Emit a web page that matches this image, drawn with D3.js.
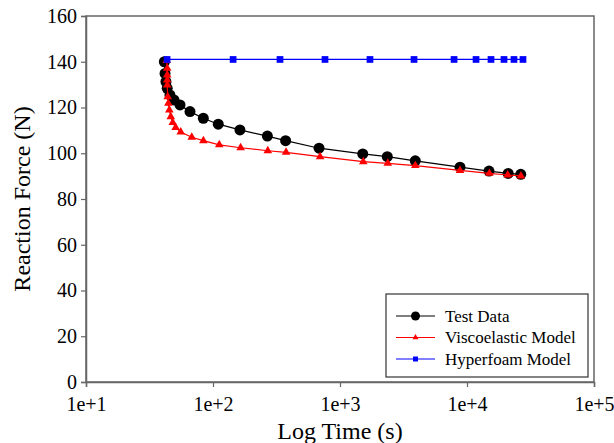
<!DOCTYPE html>
<html><head><meta charset="utf-8">
<script src="https://cdn.jsdelivr.net/npm/d3@7"></script>
<style>body{margin:0;background:#fff}svg{display:block}</style>
</head><body><svg id="c" width="614" height="443" font-family="'Liberation Serif', 'Times New Roman', Times, 'DejaVu Serif', serif"></svg>
<script>
const testTime = [41.4,41.9,42.6,43.6,45.8,49.3,55.0,65.9,83.9,110,163,268,373,684,1510,2357,3914,8810,14900,21100,26500];
const testForce = [140.0,134.9,131.3,128.4,125.5,123.3,121.1,118.2,115.3,112.7,110.2,107.5,105.5,102.2,99.7,98.5,96.7,93.9,92.2,91.2,90.8];
const viscoTime = [43.2,43.6,43.6,43.6,43.6,44.0,44.5,45.3,46.5,48.2,50.8,55.7,68.0,84,112,165,270,376,697,1525,2377,3917,8810,15000,20900,26600];
const viscoForce = [140.5,137.1,134.2,132.0,129.8,124.7,121.8,118.9,116.0,113.4,111.3,109.3,107.0,105.5,103.7,102.4,101.1,100.4,98.5,96.3,95.6,94.6,92.5,91.2,90.5,90.1];
const hyperTime = [43.5,144,337,762,1722,3828,7910,11780,15450,19560,23440,27600];
const hyperForce = [141,141,141,141,141,141,141,141,141,141,141,141];
const xTicks = [10,100,1000,10000,100000];
const xTickLabels = ["1e+1","1e+2","1e+3","1e+4","1e+5"];
const yTicks = [0,20,40,60,80,100,120,140,160];
const seriesNames = ["Test Data","Viscoelastic Model","Hyperfoam Model"];
const seriesColors = ["#000000","#ff0000","#0000ff"];

const FONT = "'Liberation Serif', 'Times New Roman', Times, 'DejaVu Serif', serif";
const svg = d3.select("#c");
const L=86,R=594,T=16,B=382;
const x = d3.scaleLog().domain([10,100000]).range([L,R]);
const y = d3.scaleLinear().domain([0,160]).range([B,T]);
const axisCol="#666666";

svg.append("rect").attr("x",L).attr("y",T).attr("width",R-L).attr("height",B-T)
  .attr("fill","none").attr("stroke",axisCol).attr("stroke-width",1.5);

const xa = svg.append("g").attr("transform",`translate(0,${B})`)
  .call(d3.axisBottom(x).tickValues(xTicks).tickFormat((d,i)=>xTickLabels[i]).tickSize(5).tickPadding(10));
const ya = svg.append("g").attr("transform",`translate(${L},0)`)
  .call(d3.axisLeft(y).tickValues(yTicks).tickSize(5).tickPadding(4));
[xa,ya].forEach(a=>{
  a.attr("font-family",FONT).attr("font-size",20);
  a.select(".domain").attr("stroke",axisCol).attr("stroke-width",1.5);
  a.selectAll(".tick line").attr("stroke",axisCol).attr("stroke-width",1.2);
  a.selectAll("text").attr("font-family",FONT).attr("font-size",20).attr("fill","#000");
});

svg.append("text").attr("x",(L+R)/2).attr("y",439).attr("text-anchor","middle")
  .attr("font-family",FONT).attr("font-size",24).text("Log Time (s)");
svg.append("text").attr("transform",`translate(30,${(T+B)/2}) rotate(-90)`).attr("text-anchor","middle")
  .attr("font-family",FONT).attr("font-size",24).text("Reaction Force (N)");

const line = d3.line().x(d=>x(d[0])).y(d=>y(d[1]));
function z(t,v){return t.map((d,i)=>[d,v[i]]);}
const data=[z(testTime,testForce),z(viscoTime,viscoForce),z(hyperTime,hyperForce)];
const syms=[d3.symbolCircle,d3.symbolTriangle,d3.symbolSquare];
const sizes=[95,32,45];

function drawSeries(k){
  svg.append("path").datum(data[k]).attr("d",line).attr("fill","none").attr("stroke",seriesColors[k]).attr("stroke-width",1.2);
}
function drawMarks(k){
  svg.append("g").selectAll("path").data(data[k]).join("path")
    .attr("transform",d=>`translate(${x(d[0])},${y(d[1])})`)
    .attr("d",d3.symbol().type(syms[k]).size(sizes[k]))
    .attr("fill",seriesColors[k]);
}
drawSeries(0);drawMarks(0);
drawSeries(1);drawMarks(1);
drawSeries(2);drawMarks(2);

const lg = svg.append("g");
lg.append("rect").attr("x",386).attr("y",294).attr("width",202).attr("height",83)
  .attr("fill","#fff").attr("stroke","#333").attr("stroke-width",1.2);
seriesNames.forEach((n,i)=>{
  const yy=316+i*21.5;
  lg.append("line").attr("x1",396).attr("x2",435).attr("y1",yy).attr("y2",yy).attr("stroke",seriesColors[i]).attr("stroke-width",1.2);
  lg.append("path").attr("transform",`translate(415.5,${yy})`).attr("d",d3.symbol().type(syms[i]).size([64,16,25][i])).attr("fill",seriesColors[i]);
  lg.append("text").attr("x",445).attr("y",yy+5.5).attr("font-family",FONT).attr("font-size",17).text(n);
});
</script></body></html>
